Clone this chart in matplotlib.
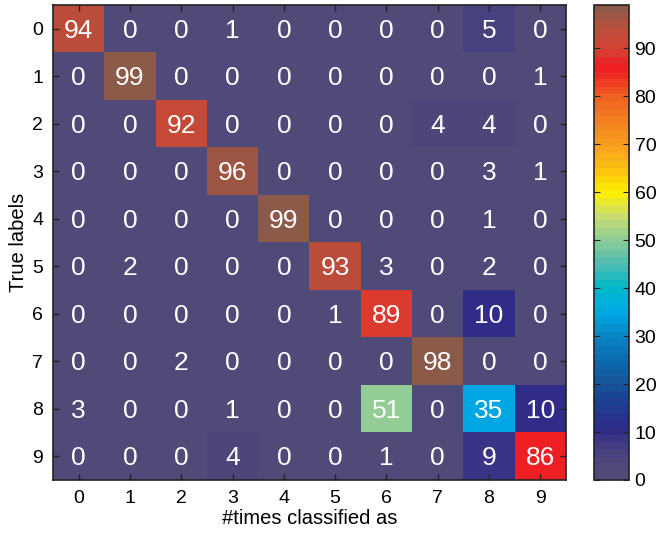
import matplotlib
matplotlib.use("Agg")
import matplotlib.pyplot as plt
import numpy as np
from matplotlib.colors import LinearSegmentedColormap

plt.rcParams['font.family'] = ['Liberation Sans', 'DejaVu Sans']

labels = ['0', '1', '2', '3', '4', '5', '6', '7', '8', '9']
matrix = [
    [94, 0, 0, 1, 0, 0, 0, 0, 5, 0],
    [0, 99, 0, 0, 0, 0, 0, 0, 0, 1],
    [0, 0, 92, 0, 0, 0, 0, 4, 4, 0],
    [0, 0, 0, 96, 0, 0, 0, 0, 3, 1],
    [0, 0, 0, 0, 99, 0, 0, 0, 1, 0],
    [0, 2, 0, 0, 0, 93, 3, 0, 2, 0],
    [0, 0, 0, 0, 0, 1, 89, 0, 10, 0],
    [0, 0, 2, 0, 0, 0, 0, 98, 0, 0],
    [3, 0, 0, 1, 0, 0, 51, 0, 35, 10],
    [0, 0, 0, 4, 0, 0, 1, 0, 9, 86],
]
cbar_ticks = [0, 10, 20, 30, 40, 50, 60, 70, 80, 90]

anchors = [
    (0, '#504a78'), (2, '#504a78'), (6, '#443e83'), (10, '#2e2a88'), (15, '#1e3c90'),
    (20, '#15559b'), (25, '#0a6db0'), (30, '#0888c8'), (35, '#00aae6'),
    (40, '#00b8c8'), (45, '#50bcb0'), (50, '#90cc98'), (55, '#c8dc70'),
    (60, '#fff200'), (65, '#fcc010'), (70, '#f8a020'), (75, '#f48020'),
    (80, '#f06422'), (85, '#ee2a24'), (87, '#ee1c24'), (90, '#d84030'),
    (95, '#b84f3c'), (99, '#8c5a48'),
]
cmap = LinearSegmentedColormap.from_list(
    'custom', [(v / 99, c) for v, c in anchors], N=64)

data = np.array(matrix)
fig = plt.figure(figsize=(6.56, 5.35), dpi=100)
ax = fig.add_axes([53 / 656, 1 - 480 / 535, 513 / 656, 475 / 535])
cax = fig.add_axes([594 / 656, 1 - 480 / 535, 35 / 656, 475 / 535])

im = ax.imshow(data, cmap=cmap, vmin=0, vmax=99, aspect='auto',
               interpolation='nearest')
for i in range(data.shape[0]):
    for j in range(data.shape[1]):
        ax.text(j, i + 0.04, str(data[i, j]), ha='center', va='center',
                color='white', fontsize=19)

ax.set_xticks(range(len(labels)))
ax.set_xticklabels(labels)
ax.set_yticks(range(len(labels)))
ax.set_yticklabels(labels)
ax.tick_params(direction='in', top=True, right=True, length=4,
               labelsize=14, color='#222222', width=1, pad=7)
ax.set_xlabel('#times classified as', fontsize=14.5, labelpad=2)
ax.set_ylabel('True labels', fontsize=14.5, labelpad=3)
for s in ax.spines.values():
    s.set_color('#222222')
    s.set_linewidth(1.2)

cb = fig.colorbar(im, cax=cax)
cb.set_ticks(cbar_ticks)
cax.tick_params(direction='in', left=True, right=True, length=4,
                labelsize=14, color='#222222', pad=4)
cb.outline.set_edgecolor('#222222')
cb.outline.set_linewidth(1.2)

fig.savefig('out.png', dpi=100)
